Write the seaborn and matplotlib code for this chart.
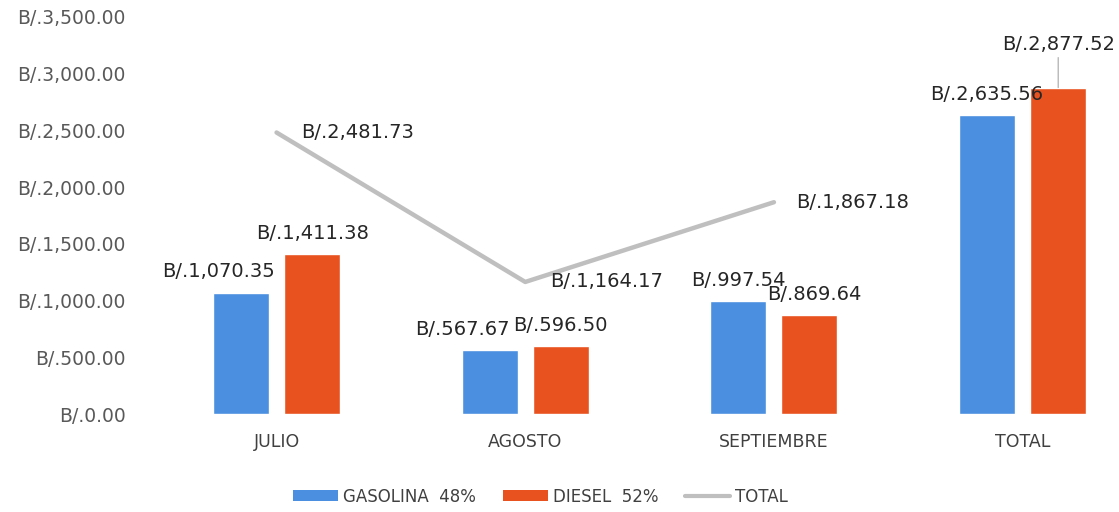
import matplotlib
matplotlib.use("Agg")
import matplotlib.pyplot as plt
import seaborn as sns
import pandas as pd
from matplotlib.patches import Patch
from matplotlib.lines import Line2D

categories = ["JULIO", "AGOSTO", "SEPTIEMBRE", "TOTAL"]
gasolina = [1070.35, 567.67, 997.54, 2635.56]
diesel = [1411.38, 596.50, 869.64, 2877.52]
total_line_cats = ["JULIO", "AGOSTO", "SEPTIEMBRE"]
total_line = [2481.73, 1164.17, 1867.18]
series_names = ["GASOLINA  48%", "DIESEL  52%"]
yticks = [0, 500, 1000, 1500, 2000, 2500, 3000, 3500]

BLUE = "#4a8fe0"
ORANGE = "#e8521f"
GRAY = "#bfbfbf"
TXT = "#262626"

def fmt(v):
    return f"B/.{v:,.2f}"

sns.set_theme(style="white")
plt.rcParams['font.family'] = ['DejaVu Sans']

df = pd.DataFrame({
    "cat": categories * 2,
    "val": gasolina + diesel,
    "serie": [series_names[0]] * len(categories) + [series_names[1]] * len(categories),
})

fig = plt.figure(figsize=(11.19, 5.12), dpi=100)
ax = fig.add_axes([0.136, 0.1914, 0.889, 0.7754])

sns.barplot(data=df, x="cat", y="val", hue="serie", order=categories,
            hue_order=series_names, palette=[BLUE, ORANGE], width=0.57, gap=0.21,
            saturation=1, ax=ax, legend=False)

xpos = [categories.index(c) for c in total_line_cats]
sns.lineplot(x=xpos, y=total_line, color=GRAY, linewidth=3.2, ax=ax)

ax.set_ylim(0, 3500)
ax.set_xlim(-0.5, 3.5)
ax.set_yticks(yticks)
ax.set_yticklabels([fmt(v) for v in yticks], color="#595959", fontsize=13.5)
ax.tick_params(axis="y", pad=19, length=0)
ax.tick_params(axis="x", pad=14, length=0, labelsize=12.5, labelcolor="#404040")
ax.set_xlabel("")
ax.set_ylabel("")
for s in ax.spines.values():
    s.set_visible(False)

# bar labels
off = 0.143
label_shift_g = [-0.092, -0.11, 0.0, 0.0]
label_shift_d = [0.0, 0.0, 0.02, 0.0]
LFS = 14
for i, c in enumerate(categories):
    g = gasolina[i]
    d = diesel[i]
    ax.annotate(fmt(g), (i - off + label_shift_g[i], g), xytext=(0, 8),
                textcoords="offset points", ha="center", va="bottom",
                fontsize=LFS, color=TXT)
    if c == "TOTAL":
        ax.annotate(fmt(d), (i + off, d), xytext=(0, 24),
                    textcoords="offset points", ha="center", va="bottom",
                    fontsize=LFS, color=TXT,
                    arrowprops=dict(arrowstyle="-", color="#a6a6a6", lw=0.8,
                                    shrinkA=0, shrinkB=0))
    else:
        ax.annotate(fmt(d), (i + off + label_shift_d[i], d), xytext=(0, 8),
                    textcoords="offset points", ha="center", va="bottom",
                    fontsize=LFS, color=TXT)

# line labels
line_dx = [18, 18, 16]
for x, v, dx in zip(xpos, total_line, line_dx):
    ax.annotate(fmt(v), (x, v), xytext=(dx, 0), textcoords="offset points",
                ha="left", va="center", fontsize=LFS, color=TXT)

handles = [Patch(facecolor=BLUE, edgecolor="none"),
           Patch(facecolor=ORANGE, edgecolor="none"),
           Line2D([0], [0], color=GRAY, lw=3)]
fig.legend(handles, series_names + ["TOTAL"], loc="center", bbox_to_anchor=(0.483, 0.03),
           ncol=3, frameon=False, fontsize=12, handlelength=2.7, handleheight=0.6,
           columnspacing=1.6, handletextpad=0.3, labelcolor="#404040")

fig.savefig("out.png", dpi=100)
